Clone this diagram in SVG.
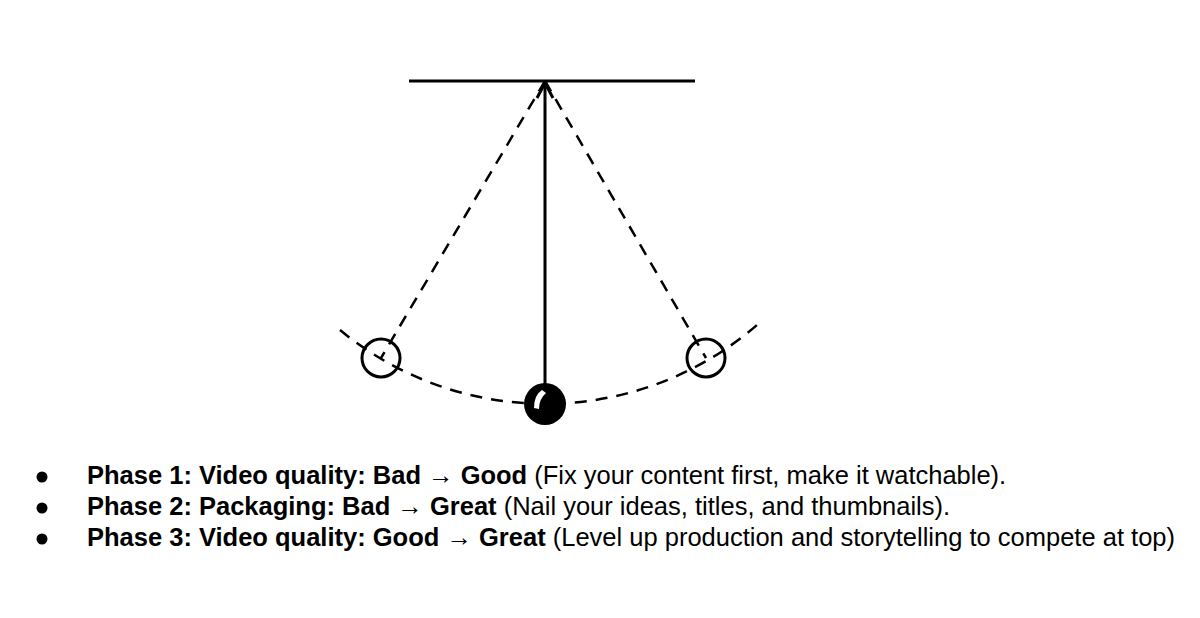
<svg xmlns="http://www.w3.org/2000/svg" width="1200" height="618" viewBox="0 0 1200 618">
<style>
.dash{fill:none;stroke:#000;stroke-width:2.5;stroke-dasharray:12 9}
.solid{fill:none;stroke:#000;stroke-width:3}
.txt{font-family:"Liberation Sans",Arial,sans-serif;font-size:25.5px;fill:#000}
.b{font-weight:bold}
.ar{font-weight:normal}
</style>
<rect width="1200" height="618" fill="#fff"/>
<g id="connectors">
<line class="solid" x1="409" y1="81" x2="695" y2="81" stroke-width="3.5"/>
<path class="dash" d="M340,330 A323,323 0 0 0 757,325"/>
<line class="dash" x1="545" y1="81" x2="381" y2="358"/>
<line class="dash" x1="545" y1="81" x2="706" y2="358"/>
<line class="solid" x1="545" y1="84" x2="545" y2="386"/>
<path class="solid" d="M537,98 L545,83 L553,98" stroke-width="2.6"/>
</g>
<g id="left-bob"><circle cx="381" cy="358" r="19" fill="none" stroke="#000" stroke-width="3"/></g>
<g id="right-bob"><circle cx="706" cy="358" r="19" fill="none" stroke="#000" stroke-width="3"/></g>
<g id="center-bob">
<circle cx="545" cy="404" r="21" fill="#000"/>
<path d="M534,408 Q534,395 542,390 L546,393 Q539,399 539,409 Z" fill="#fff"/>
</g>
<g id="legend">
<circle cx="42" cy="477" r="5.5"/>
<circle cx="42" cy="508" r="5.5"/>
<circle cx="42" cy="539" r="5.5"/>
<text class="txt" x="87" y="484"><tspan class="b">Phase 1: Video quality: Bad <tspan class="ar">→</tspan> Good</tspan> (Fix your content first, make it watchable).</text>
<text class="txt" x="87" y="515"><tspan class="b">Phase 2: Packaging: Bad <tspan class="ar">→</tspan> Great</tspan> (Nail your ideas, titles, and thumbnails).</text>
<text class="txt" x="87" y="546"><tspan class="b">Phase 3: Video quality: Good <tspan class="ar">→</tspan> Great</tspan> (Level up production and storytelling to compete at top)</text>
</g>
</svg>
